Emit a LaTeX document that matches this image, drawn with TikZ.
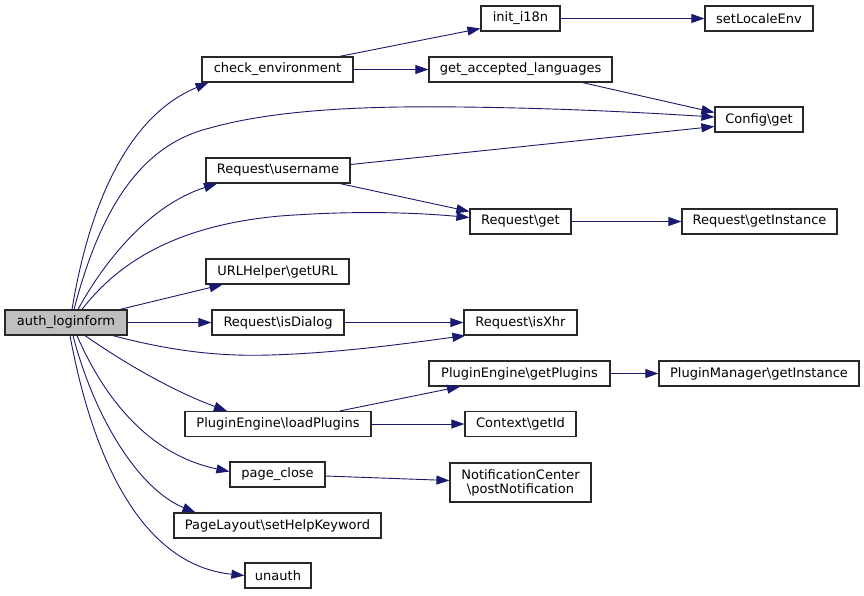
\documentclass[tikz,border=0pt]{standalone}
\usepackage{fontspec}
\setmainfont{DejaVu Sans}
\usetikzlibrary{arrows.meta}
\definecolor{edgeblue}{RGB}{25,25,112}
\definecolor{nodeborder}{RGB}{40,40,40}
\definecolor{rootfill}{RGB}{191,191,191}
\newcommand{\BSL}{\textbackslash}
\begin{document}
\begin{tikzpicture}[x=1pt,y=-1pt,
  fn/.style={draw=nodeborder, line width=1.2pt, fill=white, inner sep=0pt,
    minimum height=25pt, font=\fontsize{13}{14}\selectfont, align=center},
  call/.style={draw=edgeblue, line width=0.9pt, -{Triangle[length=13pt,width=9pt]}}]
\useasboundingbox (0,0) rectangle (864,595);

% nodes
\node[fn, fill=rootfill, minimum width=122pt] (A) at (66,322.5) {auth\_loginform};
\node[fn, minimum width=151pt] (ce) at (277.5,69.5) {check\_environment};
\node[fn, minimum width=79pt] (i18n) at (520.5,18.5) {init\_i18n};
\node[fn, minimum width=108pt] (sle) at (759,18.5) {setLocaleEnv};
\node[fn, minimum width=183pt] (gal) at (520.5,69.5) {get\_accepted\_languages};
\node[fn, minimum width=88pt] (cfg) at (759,119.5) {Config\BSL get};
\node[fn, minimum width=144pt] (ru) at (278,170.5) {Request\BSL username};
\node[fn, minimum width=101pt] (rg) at (520.5,221.5) {Request\BSL get};
\node[fn, minimum width=155pt] (rgi) at (759.5,221.5) {Request\BSL getInstance};
\node[fn, minimum width=143pt] (url) at (277.5,271.5) {URLHelper\BSL getURL};
\node[fn, minimum width=132pt] (isd) at (278,322.5) {Request\BSL isDialog};
\node[fn, minimum width=113pt] (xhr) at (520.5,322.5) {Request\BSL isXhr};
\node[fn, minimum width=181pt] (gp) at (519.5,373.5) {PluginEngine\BSL getPlugins};
\node[fn, minimum width=200pt] (pm) at (759,373.5) {PluginManager\BSL getInstance};
\node[fn, minimum width=186pt] (lp) at (278,424) {PluginEngine\BSL loadPlugins};
\node[fn, minimum width=111pt] (cid) at (520.5,424) {Context\BSL getId};
\node[fn, minimum width=95pt] (pc) at (277.5,474.5) {page\_close};
\node[fn, minimum width=141pt, minimum height=39pt] (nc) at (520.5,482.5) {NotificationCenter\\\BSL postNotification};
\node[fn, minimum width=207pt] (phk) at (277.5,525.5) {PageLayout\BSL setHelpKeyword};
\node[fn, minimum width=66pt] (un) at (278,575.5) {unauth};

% edges from auth_loginform
\draw[call] ([xshift=6pt]A.north) .. controls (90,200) and (130,115) .. ([xshift=-69pt]ce.south);
\draw[call] ([xshift=8pt]A.north) .. controls (100,210) and (140,145) .. (210,128)
  .. controls (280,108) and (380,106) .. (460,107)
  .. controls (560,108) and (650,113) .. ([yshift=2.5pt]cfg.west);
\draw[call] ([xshift=12pt]A.north) .. controls (105,260) and (150,205) .. ([xshift=-61pt]ru.south);
\draw[call] ([xshift=16pt]A.north) .. controls (120,260) and (180,225) .. (280,216)
  .. controls (360,210) and (420,213) .. ([yshift=4pt]rg.west);
\draw[call] ([xshift=54pt]A.north) -- ([xshift=-55pt]url.south);
\draw[call] (A) -- (isd);
\draw[call] ([xshift=47pt]A.south) .. controls (160,348) and (210,357) .. (270,355)
  .. controls (340,353) and (410,343) .. ([xshift=2pt]xhr.south west);
\draw[call] ([xshift=19pt]A.south) .. controls (120,360) and (170,390) .. ([xshift=-51pt]lp.north);
\draw[call] ([xshift=11pt]A.south) .. controls (105,400) and (150,455) .. ([yshift=3pt]pc.west);
\draw[call] ([xshift=7pt]A.south) .. controls (95,420) and (140,490) .. ([xshift=-82pt]phk.north);
\draw[call] ([xshift=4pt]A.south) .. controls (92,455) and (140,565) .. (un.west);

% other edges
\draw[call] ([xshift=62pt]ce.north) -- ([yshift=-10pt]i18n.west);
\draw[call] (ce) -- (gal);
\draw[call] ([xshift=62pt]gal.south) -- ([yshift=7pt]cfg.west);
\draw[call] ([yshift=6pt]ru.east) -- ([yshift=-7pt]cfg.west);
\draw[call] ([xshift=62pt]ru.south) -- ([yshift=10pt]rg.west);
\draw[call] (i18n) -- (sle);
\draw[call] (rg) -- (rgi);
\draw[call] (isd) -- (xhr);
\draw[call] ([xshift=62pt]lp.north) -- ([xshift=-59.5pt]gp.south);
\draw[call] (lp) -- (cid);
\draw[call] (gp) -- (pm);
\draw[call] ([yshift=-1.5pt]pc.east) -- ([yshift=2pt]nc.west);
\end{tikzpicture}
\end{document}
